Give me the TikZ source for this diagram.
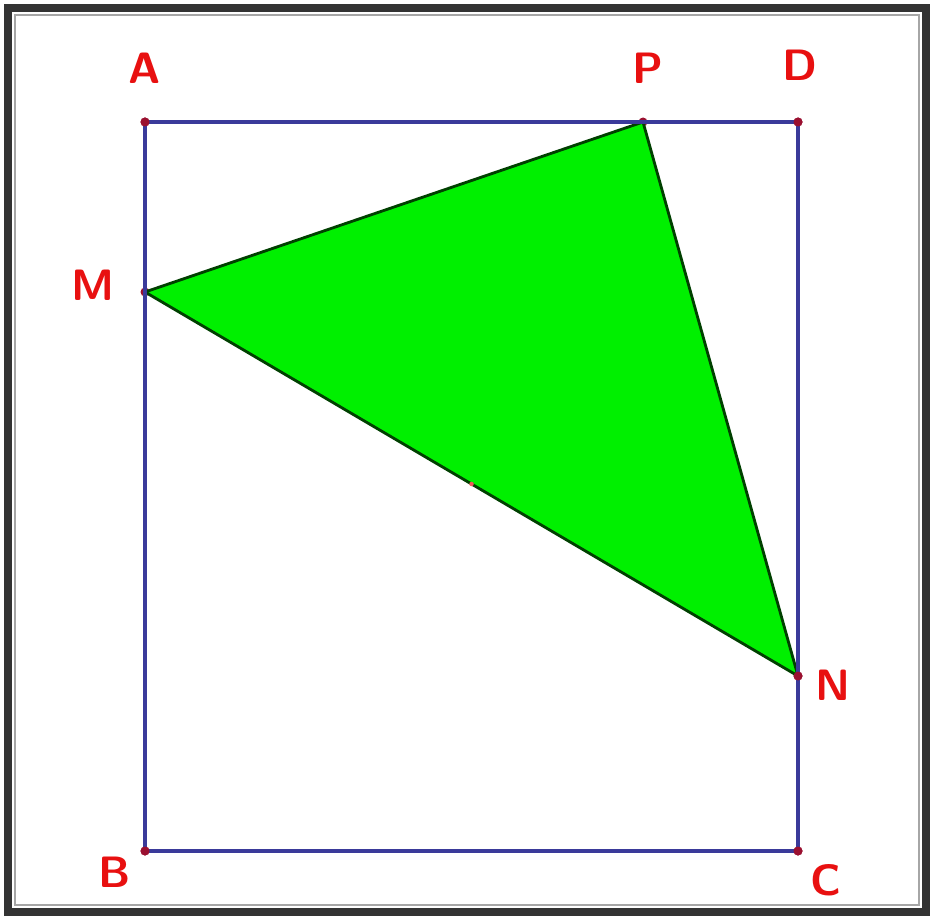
\documentclass[tikz,border=0pt]{standalone}
\usepackage{tikz}
\usetikzlibrary{positioning, calc}
\definecolor{myblue}{HTML}{3A3A9A}
\definecolor{mygreen}{HTML}{00F000}
\definecolor{myred}{HTML}{E81010}
\definecolor{mydot}{HTML}{9A1030}
\tikzset{
	pointnode/.style={
			circle,
			fill=mydot,
			minimum size=1.8mm,
			inner sep=0pt
		},
	tinynode/.style={
			circle,
			fill=myred!70,
			minimum size=0.9mm,
			inner sep=0pt
		},
	labelnode/.style={
			text=myred,
			font=\sffamily\bfseries\fontsize{25}{25}\selectfont,
			inner sep=0pt
		},
	sideline/.style={
			draw=myblue,
			line width=2.1pt
		},
	shadedtri/.style={
			fill=mygreen,
			draw=black!75!green,
			line width=1.6pt,
			line join=round
		}
}

\begin{document}
\begin{tikzpicture}[x=0.02cm, y=-0.02cm]
\useasboundingbox (0,0) rectangle (933,922);
\fill[white] (0,0) rectangle (933,922);

% frame
\draw[black!80, line width=5pt] (8,8) rectangle (926,912);
\draw[gray!70, line width=1pt] (15,15) rectangle (919,905);

\node[pointnode] (A) at (145,122) {};
\node[pointnode] (D) at (798,122) {};
\node[pointnode] (B) at (145,851) {};
\node[pointnode] (C) at (798,851) {};
\node[pointnode] (P) at (643,122) {};
\node[pointnode] (M) at (145,292) {};
\node[pointnode] (N) at (798,676) {};

% triangle
\filldraw[shadedtri] (M.center) -- (P.center) -- (N.center) -- cycle;

% rectangle
\draw[sideline] (A.center) -- (P.center);
\draw[sideline] (P.center) -- (D.center);
\draw[sideline] (D.center) -- (N.center);
\draw[sideline] (N.center) -- (C.center);
\draw[sideline] (C.center) -- (B.center);
\draw[sideline] (B.center) -- (M.center);
\draw[sideline] (M.center) -- (A.center);

\node[tinynode] (K) at ($(M)!0.5!(N)$) {};

\node[pointnode] at (A) {};
\node[pointnode] at (D) {};
\node[pointnode] at (B) {};
\node[pointnode] at (C) {};
\node[pointnode] at (N) {};

\node[labelnode] (lA) at (145,68) {A};
\node[labelnode] (lP) at (648,68) {P};
\node[labelnode] (lD) at (800,65) {D};
\node[labelnode] (lM) at (93,285) {M};
\node[labelnode] (lN) at (833,685) {N};
\node[labelnode] (lB) at (115,872) {B};
\node[labelnode] (lC) at (826,880) {C};

\end{tikzpicture}
\end{document}
